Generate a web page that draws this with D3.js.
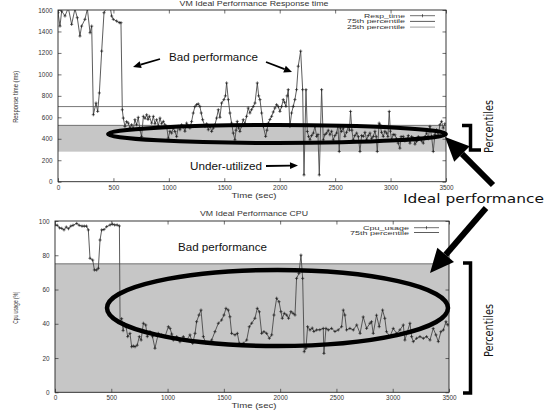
<!DOCTYPE html>
<html>
<head>
<meta charset="utf-8">
<script src="https://cdn.jsdelivr.net/npm/d3@7"></script>
<style>
  body { margin: 0; background: #fff; }
  svg { display: block; }
</style>
</head>
<body>
<div id="chart"></div>
<script>
// values: [time (sec), value]
const respTime = [
  [0,1575],[18,1450],[33,1590],[63,1544],[93,1620],[123,1466],[153,1610],[174,1528],[198,1357],[213,1450],
  [243,1513],[265,1610],[289,1388],[304,1450],[319,624],[343,733],[358,655],[373,827],[394,1217],[415,1575],
  [439,1622],[469,1638],[484,1544],[499,1513],[529,1497],[553,1482],[568,1482],[580,670],[589,593],[604,515],
  [619,560],[634,546],[649,500],[664,531],[679,490],[694,578],[709,531],[724,600],[739,484],[754,422],
  [770,609],[785,590],[800,624],[812,580],[824,609],[845,546],[860,609],[875,540],[890,578],[905,520],
  [920,593],[935,540],[950,562],[965,530],[980,515],[995,406],[1010,470],[1025,453],[1040,500],[1055,468],
  [1070,420],[1085,515],[1100,484],[1115,530],[1130,515],[1145,470],[1160,546],[1175,520],[1190,500],[1205,560],
  [1220,640],[1235,700],[1250,718],[1265,725],[1280,702],[1292,640],[1305,578],[1326,515],[1341,540],[1356,484],
  [1371,520],[1386,468],[1401,500],[1416,531],[1431,593],[1446,671],[1461,600],[1476,733],[1497,765],[1510,800],
  [1521,920],[1536,765],[1551,640],[1566,546],[1581,453],[1596,390],[1606,480],[1617,562],[1630,500],[1641,468],
  [1656,520],[1671,578],[1686,540],[1701,609],[1716,687],[1731,640],[1746,671],[1761,700],[1777,733],[1798,920],
  [1810,800],[1822,765],[1837,640],[1852,515],[1873,422],[1885,480],[1897,546],[1912,580],[1927,609],[1942,650],
  [1957,687],[1972,718],[1987,700],[2002,655],[2017,700],[2032,765],[2044,740],[2056,702],[2067,800],[2077,858],
  [2092,515],[2107,640],[2122,702],[2137,765],[2152,858],[2167,1076],[2189,1217],[2207,858],[2219,63],[2237,858],
  [2249,468],[2261,420],[2273,390],[2288,430],[2303,453],[2318,515],[2333,422],[2345,440],[2357,63],[2378,858],
  [2393,390],[2408,440],[2423,453],[2438,480],[2453,437],[2468,470],[2483,390],[2498,430],[2513,453],[2525,520],
  [2537,281],[2547,500],[2558,468],[2573,500],[2588,422],[2603,460],[2618,515],[2629,480],[2639,655],[2651,480],
  [2663,390],[2678,430],[2694,453],[2709,420],[2724,281],[2739,430],[2754,422],[2769,460],[2784,390],[2799,430],
  [2814,453],[2829,400],[2844,422],[2859,470],[2870,420],[2880,281],[2897,546],[2904,531],[2919,460],[2934,422],
  [2949,470],[2964,453],[2976,420],[2988,655],[2998,470],[3009,390],[3024,440],[3039,437],[3054,400],[3069,359],
  [3084,312],[3095,420],[3114,422],[3129,380],[3144,390],[3160,430],[3175,359],[3190,420],[3205,406],[3220,350],
  [3235,375],[3250,420],[3265,406],[3280,380],[3295,359],[3310,420],[3325,453],[3340,400],[3355,515],[3370,420],
  [3385,281],[3400,440],[3415,484],[3430,420],[3445,531],[3460,562],[3475,500],[3490,540]
];

const cpuUsage = [
  [0,97.7],[20,97.5],[40,96],[60,95.7],[80,94.8],[100,96.5],[120,95.5],[140,97],[160,97.5],[193,98.6],
  [215,97.5],[240,97],[260,97],[280,97],[296,94.8],[311,78.2],[335,77.2],[350,71.4],[370,71.4],[385,72.4],
  [400,88.9],[415,94.8],[435,95],[459,96.7],[489,97.7],[510,98.2],[530,97.7],[552,97.7],[572,97.1],[578,41.2],
  [592,43],[605,36],[617,40],[631,38.3],[646,32.5],[666,34.4],[681,26.6],[696,27],[711,26.6],[730,27.5],
  [749,32.5],[765,30.5],[785,40.3],[806,39.3],[820,32.5],[844,35.4],[866,32.5],[888,25.7],[918,34.4],[947,33.5],
  [977,32.5],[1007,38.3],[1022,37.3],[1037,34],[1051,30.5],[1081,32.5],[1110,29.5],[1140,32.5],[1170,30.5],[1199,33.5],
  [1223,28.6],[1244,34.4],[1258,41.2],[1279,45.1],[1297,48.0],[1318,32.5],[1340,28.6],[1362,28.6],[1392,30.5],[1421,35.4],
  [1451,40.3],[1480,42.2],[1501,45.1],[1519,49.0],[1539,48],[1554,44.1],[1569,34.4],[1599,33.5],[1620,34.4],[1637,28.6],
  [1673,28.6],[1703,30.5],[1726,38.3],[1747,40.3],[1776,43.2],[1797,49.0],[1815,47],[1836,34.4],[1856,35.4],[1880,34.4],
  [1904,31.5],[1925,33.5],[1945,45.1],[1969,54.9],[1990,52.9],[2007,47.1],[2019,43.2],[2037,46.1],[2058,45.1],[2075,43.2],
  [2096,47.1],[2115,46.1],[2132,45.1],[2146,66.5],[2167,69.4],[2185,80.1],[2200,66.5],[2214,23.7],[2229,25.7],[2244,38.3],
  [2265,36.4],[2285,37.5],[2300,35.5],[2324,36.4],[2353,36.5],[2383,37.3],[2389,22.7],[2407,37.3],[2428,36.4],[2457,37.3],
  [2487,35.5],[2516,36.4],[2546,38.3],[2561,48.0],[2575,45.1],[2590,36.4],[2620,37.3],[2650,36.4],[2680,39.3],[2710,34.4],
  [2738,44],[2768,37.3],[2798,40.3],[2812,41.2],[2827,34.4],[2856,45],[2880,38.3],[2910,48.0],[2930,43.2],[2945,35.4],
  [2975,32.5],[3005,37.3],[3034,34.4],[3064,36.4],[3094,39.3],[3108,30.5],[3153,40.3],[3168,32.5],[3183,29.6],[3212,31.5],
  [3242,32.5],[3272,31.5],[3301,32.5],[3331,30.5],[3360,37.3],[3384,33.5],[3405,29.6],[3428,35.4],[3450,36.4],[3473,41.2],
  [3490,39.3]
];

// percentile levels and tick labels
const respP75 = 700;
const respBand = [280, 525];
const cpuP75 = 75;
const timeTicks = [0, 500, 1000, 1500, 2000, 2500, 3000, 3500];
const respTicks = [0, 200, 400, 600, 800, 1000, 1200, 1400, 1600];
const cpuTicks = [0, 20, 40, 60, 80, 100];

const W = 555, H = 411;
const svg = d3.select('#chart').append('svg').attr('width', W).attr('height', H);

const defs = svg.append('defs');
const lineColor = '#4a4a4a';
const tickFont = 'Liberation Sans, Arial, sans-serif';
const fmt = d3.format('d');

// draw one gnuplot-like panel
function panel(opt) {
  const x = d3.scaleLinear().domain([0, 3500]).range([opt.left, opt.right]);
  const y = d3.scaleLinear().domain(opt.yDomain).range([opt.bottom, opt.top]);
  const g = svg.append('g');

  // shaded percentile area
  g.append('rect')
    .attr('x', x(0)).attr('width', x(3500) - x(0))
    .attr('y', y(opt.band[1])).attr('height', y(opt.band[0]) - y(opt.band[1]))
    .attr('fill', '#c6c6c6');
  g.append('line')
    .attr('x1', x(0)).attr('x2', x(3500))
    .attr('y1', y(opt.band[1])).attr('y2', y(opt.band[1]))
    .attr('stroke', '#555').attr('stroke-width', 0.8);
  if (opt.p75 != null) {
    g.append('line')
      .attr('x1', x(0)).attr('x2', x(3500))
      .attr('y1', y(opt.p75)).attr('y2', y(opt.p75))
      .attr('stroke', '#555').attr('stroke-width', 0.8);
  }

  // data, clipped to the frame
  defs.append('clipPath').attr('id', opt.id)
    .append('rect').attr('x', opt.left).attr('y', opt.top)
    .attr('width', opt.right - opt.left).attr('height', opt.bottom - opt.top);
  const dg = g.append('g').attr('clip-path', `url(#${opt.id})`);
  const line = d3.line().x(d => x(d[0])).y(d => y(d[1]));
  dg.append('path').datum(opt.data).attr('d', line)
    .attr('fill', 'none').attr('stroke', lineColor).attr('stroke-width', 0.9);
  dg.selectAll('path.pt').data(opt.data).enter().append('path')
    .attr('class', 'pt')
    .attr('d', d => `M${x(d[0]) - 1.6},${y(d[1])}h3.2M${x(d[0])},${y(d[1]) - 1.6}v3.2`)
    .attr('stroke', '#111').attr('stroke-width', 0.6);

  // axes, ticks pointing inward, mirrored on top and right
  const styleAxis = a => {
    a.select('.domain').remove();
    a.selectAll('line').attr('stroke', '#333').attr('stroke-width', 0.7);
    a.selectAll('text').attr('font-family', tickFont).attr('font-size', 6.4).attr('fill', '#333');
  };
  g.append('g').attr('transform', `translate(0,${opt.bottom})`)
    .call(d3.axisBottom(x).tickValues(timeTicks).tickFormat(fmt).tickSizeInner(-3.5).tickSizeOuter(0).tickPadding(3.5))
    .call(styleAxis);
  g.append('g').attr('transform', `translate(0,${opt.top})`)
    .call(d3.axisTop(x).tickValues(timeTicks).tickSizeInner(-3.5).tickSizeOuter(0).tickFormat(''))
    .call(styleAxis);
  g.append('g').attr('transform', `translate(${opt.left},0)`)
    .call(d3.axisLeft(y).tickValues(opt.yTicks).tickFormat(fmt).tickSizeInner(-3.5).tickSizeOuter(0).tickPadding(5.5))
    .call(styleAxis);
  g.append('g').attr('transform', `translate(${opt.right},0)`)
    .call(d3.axisRight(y).tickValues(opt.yTicks).tickSizeInner(-3.5).tickSizeOuter(0).tickFormat(''))
    .call(styleAxis);

  g.append('rect')
    .attr('x', opt.left).attr('y', opt.top)
    .attr('width', opt.right - opt.left).attr('height', opt.bottom - opt.top)
    .attr('fill', 'none').attr('stroke', '#222').attr('stroke-width', 0.9);

  const label = (txt, xx, yy, len, rot) => {
    const t = g.append('text').text(txt)
      .attr('font-family', tickFont).attr('font-size', 6.5).attr('fill', '#333')
      .attr('text-anchor', 'middle').attr('textLength', len).attr('lengthAdjust', 'spacingAndGlyphs');
    if (rot) t.attr('transform', `translate(${xx},${yy}) rotate(-90)`);
    else t.attr('x', xx).attr('y', yy);
  };
  label(opt.title, (opt.left + opt.right) / 2 + 2, opt.titleY, opt.titleLen);
  label('Time (sec)', 254, opt.bottom + 16, 45);
  label(opt.yLabel, 18, (opt.top + opt.bottom) / 2 + 1, opt.yLabelLen, true);

  // legend
  opt.legend.forEach((l, i) => {
    const ly = opt.legendY + i * opt.legendGap;
    g.append('text').text(l.name)
      .attr('x', opt.legendX).attr('y', ly + 2)
      .attr('font-family', tickFont).attr('font-size', 6).attr('fill', '#333')
      .attr('text-anchor', 'end').attr('textLength', l.len).attr('lengthAdjust', 'spacingAndGlyphs');
    g.append('line')
      .attr('x1', opt.legendX + 5).attr('x2', opt.legendX + 30)
      .attr('y1', ly).attr('y2', ly)
      .attr('stroke', l.color).attr('stroke-width', 0.8);
    if (l.mark) {
      g.append('path')
        .attr('d', `M${opt.legendX + 17.5},${ly - 1.6}v3.2`)
        .attr('stroke', '#111').attr('stroke-width', 0.6);
    }
  });
}

panel({
  id: 'clipTop', left: 58, right: 446, top: 10, bottom: 181.7,
  yDomain: [0, 1600], yTicks: respTicks, data: respTime,
  band: respBand, p75: respP75,
  title: 'VM Ideal Performance Response time', titleY: 5.5, titleLen: 149,
  yLabel: 'Response time (ms)', yLabelLen: 52,
  legendX: 405, legendY: 15.7, legendGap: 5.7,
  legend: [
    { name: 'Resp_time', len: 41, color: lineColor, mark: true },
    { name: '75th percentile', len: 58, color: '#333' },
    { name: '25th percentile', len: 58, color: '#888' }
  ]
});

panel({
  id: 'clipBot', left: 55, right: 449, top: 221, bottom: 392.3,
  yDomain: [0, 100], yTicks: cpuTicks, data: cpuUsage,
  band: [0, cpuP75], p75: null,
  title: 'VM Ideal Performance CPU', titleY: 215.5, titleLen: 108,
  yLabel: 'Cpu usage (%)', yLabelLen: 32,
  legendX: 409, legendY: 227.7, legendGap: 4.8,
  legend: [
    { name: 'Cpu_usage', len: 46, color: lineColor, mark: true },
    { name: '75th percentile', len: 59, color: '#333' }
  ]
});

// hand-drawn annotations on top of the charts
const ann = svg.append('g');
const annFont = 'Liberation Sans, Arial, sans-serif';

function note(txt, x, y, len, size, family) {
  ann.append('text').text(txt).attr('x', x).attr('y', y)
    .attr('font-family', family || annFont).attr('font-size', size).attr('fill', '#111')
    .attr('textLength', len).attr('lengthAdjust', 'spacingAndGlyphs');
}

function arrow(x1, y1, x2, y2, w, head, hw) {
  const a = Math.atan2(y2 - y1, x2 - x1);
  const bx = x2 - head * Math.cos(a), by = y2 - head * Math.sin(a);
  const px = -Math.sin(a) * hw / 2, py = Math.cos(a) * hw / 2;
  ann.append('line').attr('x1', x1).attr('y1', y1).attr('x2', bx).attr('y2', by)
    .attr('stroke', '#000').attr('stroke-width', w);
  ann.append('path')
    .attr('d', `M${x2},${y2}L${bx + px},${by + py}L${bx - px},${by - py}Z`)
    .attr('fill', '#000');
}

note('Bad performance', 169, 60.5, 89, 10.5);
note('Under-utilized', 190, 170, 72, 10.5);
note('Bad performance', 178, 250.5, 89, 10.5);
arrow(160, 59, 133, 67, 1.8, 8, 7);
arrow(266, 62, 292, 72, 1.8, 8, 7);
arrow(266, 166, 298, 165.5, 1.8, 8, 7);

ann.append('ellipse').attr('cx', 277).attr('cy', 134).attr('rx', 169).attr('ry', 9)
  .attr('fill', 'none').attr('stroke', '#000').attr('stroke-width', 4);
ann.append('ellipse').attr('cx', 277.5).attr('cy', 308).attr('rx', 170.5).attr('ry', 38)
  .attr('fill', 'none').attr('stroke', '#000').attr('stroke-width', 4.5);

arrow(493, 185, 445, 137, 6, 24, 22);
arrow(486, 208, 430, 273, 6, 24, 22);

note('Ideal performance', 403, 203, 141, 13, 'DejaVu Sans, sans-serif');

// brackets and rotated labels
ann.append('path').attr('d', 'M462,125.5H470.5V150H481')
  .attr('fill', 'none').attr('stroke', '#000').attr('stroke-width', 3.5);
ann.append('path').attr('d', 'M463,263H470.5V393H463')
  .attr('fill', 'none').attr('stroke', '#000').attr('stroke-width', 3.5);
[[126.5], [330.5]].forEach(([cy]) => {
  ann.append('text').text('Percentiles')
    .attr('transform', `translate(493,${cy}) rotate(-90)`)
    .attr('text-anchor', 'middle')
    .attr('font-family', 'DejaVu Sans, sans-serif').attr('font-size', 13).attr('fill', '#111')
    .attr('textLength', 53).attr('lengthAdjust', 'spacingAndGlyphs');
});
</script>
</body>
</html>
